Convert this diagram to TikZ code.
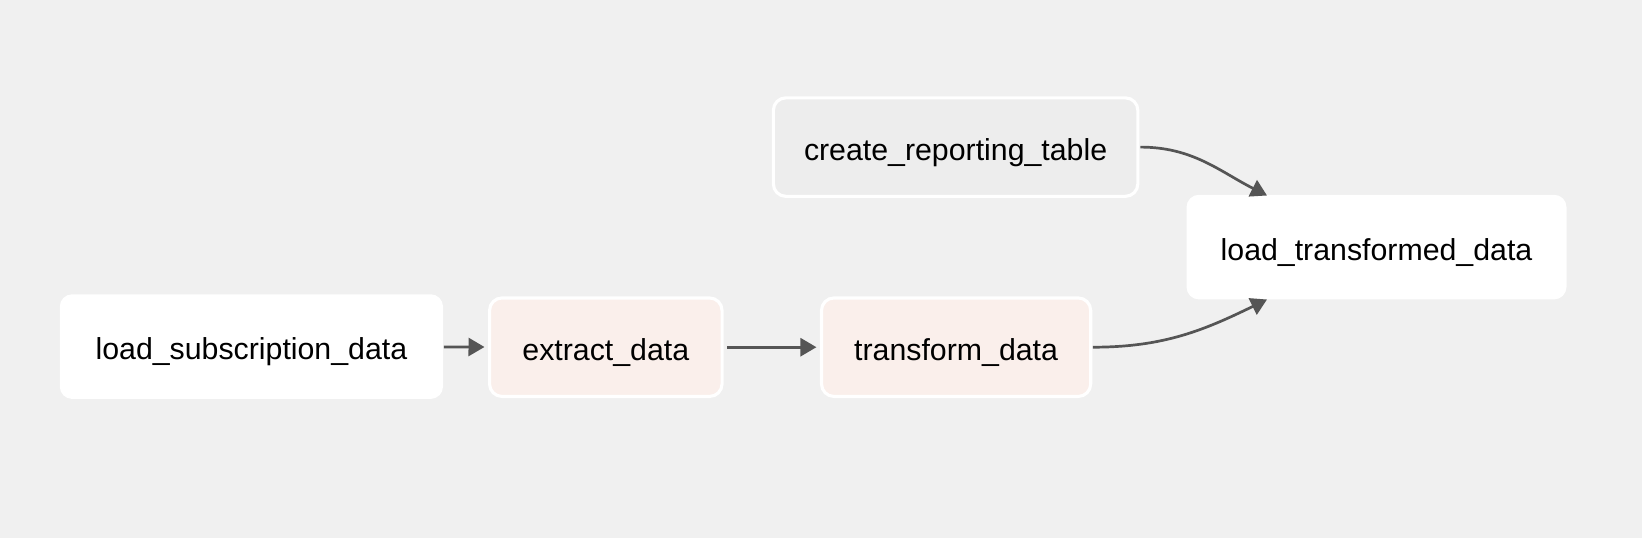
\documentclass[tikz,border=0pt]{standalone}
\usepackage{fontspec}
\setmainfont{Liberation Sans}
\usetikzlibrary{arrows.meta}
\definecolor{bg}{HTML}{F0F0F0}
\definecolor{pinkfill}{HTML}{FAEFEB}
\definecolor{grayfill}{HTML}{EDEDED}
\definecolor{edgec}{HTML}{555555}
\tikzset{
  task/.style={rectangle, rounded corners=12.5pt, fill=white, draw=none,
    minimum height=104.7pt, font=\fontsize{30.3}{34}\selectfont, inner sep=0pt,
    text height=26pt, text depth=0pt},
  bordered/.style={task, draw=white, line width=3.1pt, minimum height=98.5pt},
  running/.style={bordered, fill=pinkfill},
  queued/.style={bordered, fill=grayfill},
  flow/.style={draw=edgec, line width=2.7pt, -{Triangle[length=16pt,width=18pt]},
    shorten >=3.5pt, shorten <=3.5pt}
}
\begin{document}
\begin{tikzpicture}[x=1pt,y=-1pt]
\fill[bg] (0,0) rectangle (1642,538);
\useasboundingbox (0,0) rectangle (1642,538);
\node[task, minimum width=383.3pt] (lsd) at (251.4,346.6) {load\_subscription\_data};
\node[running, minimum width=232.5pt] (ext) at (605.8,347.2) {extract\_data};
\node[running, minimum width=269.2pt] (trf) at (956.1,347.2) {transform\_data};
\node[queued, minimum width=364.5pt] (crt) at (955.6,147.1) {create\_reporting\_table};
\node[task, minimum width=380pt] (ltd) at (1376.5,247.1) {load\_transformed\_data};
\coordinate (intop) at (1267,195.5);
\coordinate (inbot) at (1267,299.5);
\draw[flow, shorten <=0.5pt] (lsd) -- (ext);
\draw[flow] (ext) -- (trf);
\draw[flow, shorten >=0pt, shorten <=0.5pt] (trf.east) to[out=0,in=206] (inbot);
\draw[flow, shorten >=0pt, shorten <=1pt] (crt.east) to[out=0,in=153] (intop);
\end{tikzpicture}
\end{document}
